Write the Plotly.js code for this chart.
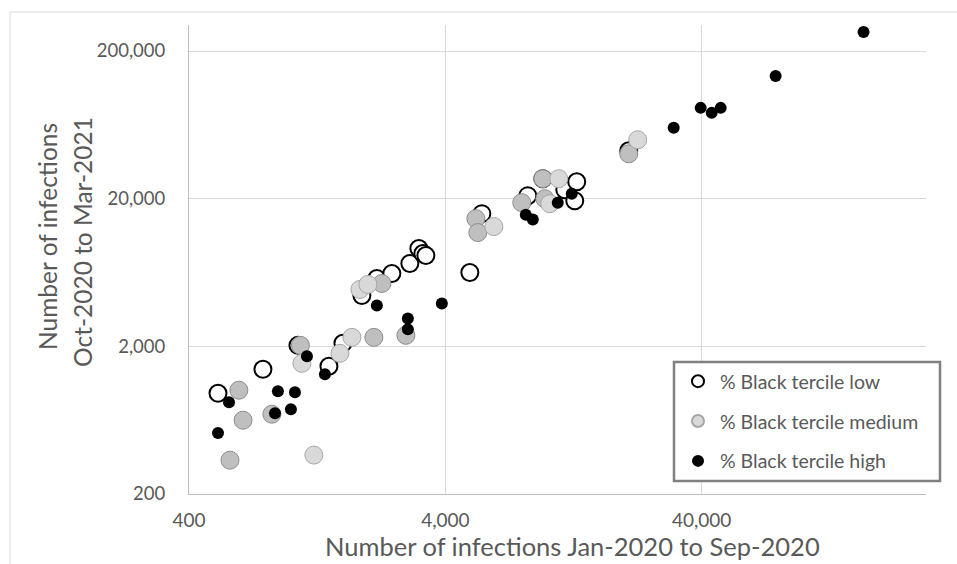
<!DOCTYPE html>
<html>
<head>
<meta charset="utf-8">
<script src="https://cdn.plot.ly/plotly-3.0.1.min.js"></script>
<style>html,body{margin:0;padding:0;background:#fff;}#chart{width:957px;height:564px;}</style>
</head>
<body>
<div id="chart"></div>
<script>
// Series: % Black tercile low
const lowX = [519, 777, 1064, 1406, 1594, 1890, 2162, 2474, 2908, 3153, 3269, 3358, 4985, 5552, 8389, 9600, 11695, 13020, 12790, 20776];
const lowY = [963, 1398, 2031, 1466, 2096, 4422, 5762, 6226, 7274, 9188, 8500, 8240, 6325, 15834, 20960, 27300, 23010, 26060, 19380, 42200];
// Series: % Black tercile medium (lighter points)
const medX = [1228, 1103, 1552, 1728, 1857, 1995, 6183, 11080, 10220, 22510];
const medY = [367, 1535, 1793, 2300, 4856, 5248, 12940, 27300, 18500, 50080];
// Series: % Black tercile medium (darker, overlapping points)
const medX2 = [626, 650, 578, 842, 1088, 2105, 2806, 2262, 5260, 5355, 7947, 9600, 9772, 20776];
const medY2 = [1009, 632, 339, 694, 2031, 2300, 2374, 5330, 14650, 11790, 18800, 27300, 20000, 40280];
// Series: % Black tercile high
const highX = [519, 573, 866, 889, 999, 1036, 1154, 1356, 2162, 2856, 2856, 3876, 8239, 8776, 10980, 12450, 31110, 39640, 43760, 47440, 77720, 171200];
const highY = [517, 837, 705, 993, 750, 978, 1712, 1294, 3784, 3092, 2606, 3904, 15590, 14430, 18800, 21620, 60360, 82400, 76220, 82400, 135580, 268800];

const names = ["% Black tercile low", "% Black tercile medium", "% Black tercile high"];
const xTicks = [400, 4000, 40000];
const xTickText = ["400", "4,000", "40,000"];
const yTicks = [200, 2000, 20000, 200000];
const yTickText = ["200", "2,000", "20,000", "200,000"];

const FONT = "Lato, 'Open Sans', sans-serif";
const TXT = "#595959";

const traces = [
  {x: lowX, y: lowY, name: names[0], type: "scatter", mode: "markers", legendgroup: "a",
   marker: {symbol: "circle", size: 17, color: "#ffffff", line: {color: "#000000", width: 2}}},
  {x: medX2, y: medY2, name: names[1], type: "scatter", mode: "markers", legendgroup: "b", showlegend: false,
   marker: {symbol: "circle", size: 18, color: "#bfbfbf", line: {color: "#8c8c8c", width: 1}}},
  {x: medX, y: medY, name: names[1], type: "scatter", mode: "markers", legendgroup: "b",
   marker: {symbol: "circle", size: 18, color: "#d9d9d9", line: {color: "#a6a6a6", width: 1}}},
  {x: highX, y: highY, name: names[2], type: "scatter", mode: "markers", legendgroup: "c",
   marker: {symbol: "circle", size: 12, color: "#000000", line: {color: "#000000", width: 0}}}
];

const px = (p) => (p - 189) / 737;   // pixel -> paper x
const py = (p) => (494 - p) / 469;   // pixel -> paper y

const layout = {
  width: 957, height: 564,
  margin: {l: 189, r: 31, t: 25, b: 70},
  paper_bgcolor: "#ffffff", plot_bgcolor: "#ffffff",
  font: {family: FONT, color: TXT, size: 19},
  showlegend: true,
  xaxis: {
    type: "log", range: [Math.log10(400), Math.log10(300000)],
    tickvals: xTicks, ticktext: xTickText,
    showgrid: true, gridcolor: "#d9d9d9", gridwidth: 1,
    showline: true, linecolor: "#bfbfbf", linewidth: 1,
    ticks: "", ticklabelstandoff: 9,
    tickfont: {size: 19, color: TXT, family: FONT}, zeroline: false
  },
  yaxis: {
    type: "log", range: [Math.log10(200), Math.log10(300000)],
    tickvals: yTicks, ticktext: yTickText,
    showgrid: true, gridcolor: "#d9d9d9", gridwidth: 1,
    showline: true, linecolor: "#bfbfbf", linewidth: 1,
    ticks: "", ticklabelstandoff: 19,
    tickfont: {size: 18.5, color: TXT, family: FONT}, zeroline: false
  },
  legend: {
    x: px(674), y: py(360), xanchor: "left", yanchor: "top",
    bgcolor: "rgba(0,0,0,0)", bordercolor: "rgba(0,0,0,0)", borderwidth: 2,
    font: {size: 19.5, color: TXT, family: FONT},
    traceorder: "grouped", tracegroupgap: 11.5, itemsizing: "constant",
    itemwidth: 34
  },
  annotations: [
    {text: "Number of infections Jan-2020 to Sep-2020", xref: "paper", yref: "paper",
     x: px(572), y: py(546), xanchor: "center", yanchor: "middle", showarrow: false,
     font: {size: 25.5, color: TXT, family: FONT}},
    {text: "Number of infections", xref: "paper", yref: "paper",
     x: px(48), y: py(237), xanchor: "center", yanchor: "middle", showarrow: false,
     textangle: -90, font: {size: 24.5, color: TXT, family: FONT}},
    {text: "Oct-2020 to Mar-2021", xref: "paper", yref: "paper",
     x: px(82), y: py(242), xanchor: "center", yanchor: "middle", showarrow: false,
     textangle: -90, font: {size: 24.5, color: TXT, family: FONT}}
  ],
  shapes: [
    {type: "line", xref: "paper", yref: "paper", x0: px(10), x1: px(957),
     y0: py(12), y1: py(12), line: {color: "#d9d9d9", width: 1}},
    {type: "line", xref: "paper", yref: "paper", x0: px(10), x1: px(10),
     y0: py(12), y1: py(564), line: {color: "#d9d9d9", width: 1}},
    {type: "rect", xref: "paper", yref: "paper", layer: "above", x0: px(674), x1: px(940),
     y0: py(362), y1: py(481), fillcolor: "#ffffff", line: {color: "#808080", width: 2.5}}
  ]
};

Plotly.newPlot("chart", traces, layout, {displayModeBar: false, staticPlot: true});
</script>
</body>
</html>
